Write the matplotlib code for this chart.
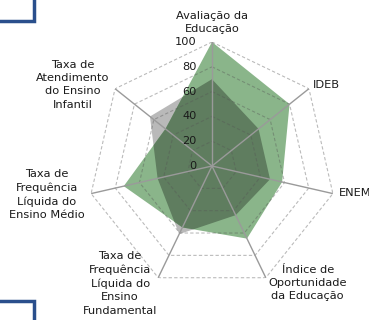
import numpy as np
import matplotlib.pyplot as plt
from matplotlib.patches import Rectangle

# Indicator axes, clockwise from the top
categories = [
    "Avaliação da\nEducação",
    "IDEB",
    "ENEM",
    "Índice de\nOportunidade\nda Educação",
    "Taxa de\nFrequência\nLíquida do\nEnsino\nFundamental",
    "Taxa de\nFrequência\nLíquida do\nEnsino Médio",
    "Taxa de\nAtendimento\ndo Ensino\nInfantil",
]
gray_values = [70, 48, 48, 44, 61, 45, 64]
green_values = [100, 80, 58, 65, 55, 73, 48]
ring_levels = [20, 40, 60, 80, 100]
tick_labels = ["0", "20", "40", "60", "80", "100"]

# label offsets (pixels) from the end of each spoke, with alignment
label_layout = [
    ((0, 8), "center", "bottom"),
    ((4, 4), "left", "center"),
    ((6, 1), "left", "center"),
    ((42, 13), "center", "top"),
    ((-38, 27), "center", "top"),
    ((-44, -1), "center", "center"),
    ((-42, 4), "center", "center"),
]

W, H = 369, 320
cx, cy, R = 212, 166, 124

fig = plt.figure(figsize=(W / 100, H / 100), dpi=100)
ax = fig.add_axes([(cx - R) / W, (H - cy - R) / H, 2 * R / W, 2 * R / H],
                  projection="polar")
ax.set_theta_offset(np.pi / 2)
ax.set_theta_direction(-1)
ax.set_ylim(0, 100)
ax.axis("off")

n = len(categories)
theta = np.linspace(0, 2 * np.pi, n, endpoint=False)
closed = np.append(theta, theta[0])


def ring(vals):
    return np.append(vals, vals[0])


light_gray = "#b9b9b9"
light_green = "#8ab58a"
dark_green = "#5f7d5f"

gray_patch = ax.fill(closed, ring(gray_values), color=light_gray, lw=0, zorder=2)[0]
ax.fill(closed, ring(green_values), color=light_green, lw=0, zorder=3)
overlap = ax.fill(closed, ring(green_values), color=dark_green, lw=0, zorder=4)[0]
overlap.set_clip_path(gray_patch)

# dashed rings and solid spokes
for lev in ring_levels:
    ax.plot(closed, [lev] * (n + 1), color="#555555", alpha=0.4, lw=0.8,
            ls=(0, (3, 2)), zorder=5)
for t in theta:
    ax.plot([t, t], [0, 100], color="#9a9a9a", lw=1.0, zorder=6)

text_color = "#1a1a1a"
for lab, lev in zip(tick_labels, [0] + ring_levels):
    ax.annotate(lab, xy=(0, lev), xytext=(-15, 0), textcoords="offset pixels",
                ha="right", va="center", fontsize=8.2, color=text_color,
                zorder=7, annotation_clip=False)

for t, lab, (off, ha, va) in zip(theta, categories, label_layout):
    ax.annotate(lab, xy=(t, 100), xytext=off, textcoords="offset pixels",
                ha=ha, va=va, multialignment="center", fontsize=8.2,
                linespacing=1.42, color=text_color, annotation_clip=False)

# decorative frame corners on the left edge
blue = "#2a4f8c"
fig.add_artist(Rectangle((-20 / W, (H - 21) / H), 54 / W, 60 / H,
                         transform=fig.transFigure, fill=False, ec=blue, lw=2.5))
fig.add_artist(Rectangle((-20 / W, -40 / H), 54 / W, (H - 301 + 40) / H,
                         transform=fig.transFigure, fill=False, ec=blue, lw=2.5))

fig.savefig("out.png", dpi=100)
